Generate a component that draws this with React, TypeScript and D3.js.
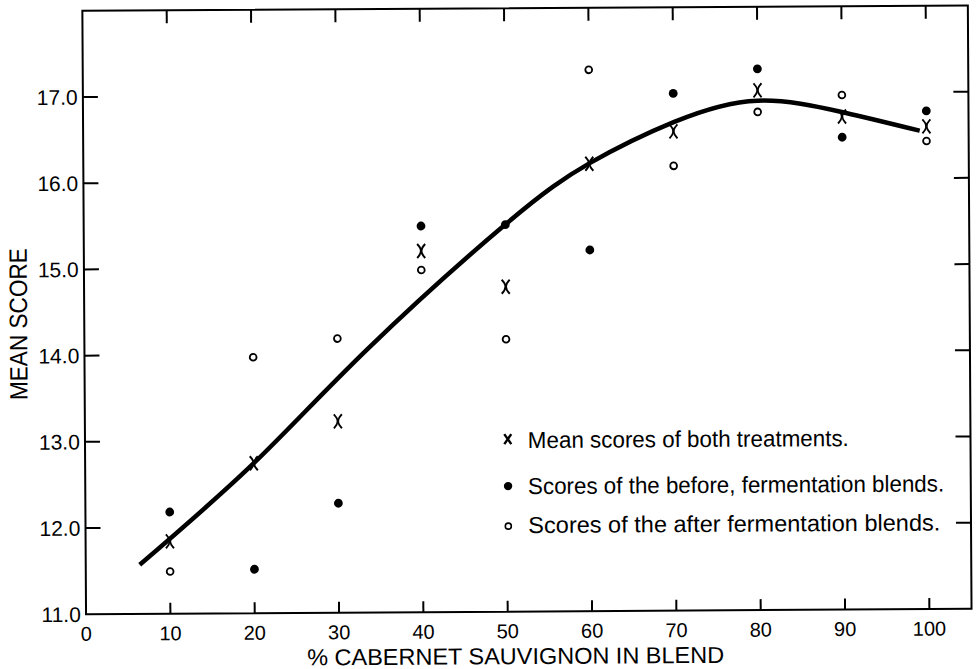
import React from 'react';
import * as d3 from 'd3';

// ---- data ----
const blendPct = [10, 20, 30, 40, 50, 60, 70, 80, 90, 100];
const meanScores = [11.84, 12.74, 13.22, 15.19, 14.77, 16.19, 16.56, 17.03, 16.72, 16.6];
const beforeScores = [12.18, 11.51, 12.27, 15.48, 15.49, 15.19, 17.0, 17.28, 16.48, 16.78];
const afterScores = [11.49, 13.97, 14.18, 14.97, 14.16, 17.28, 16.16, 16.78, 16.97, 16.43];

// fitted smooth curve (hand drawn in the original)
const curvePct = [6.4, 20, 33.5, 50.1, 60.1, 70.1, 80, 90.1, 99.2];
const curveScore = [11.57, 12.74, 14.05, 15.5, 16.2, 16.67, 16.91, 16.77, 16.55];

const xTickValues = [0, 10, 20, 30, 40, 50, 60, 70, 80, 90, 100];
const yTickValues = [11, 12, 13, 14, 15, 16, 17];
const yTickLabels = ['11.0', '12.0', '13.0', '14.0', '15.0', '16.0', '17.0'];
const legendLabels = [
  'Mean scores of both treatments.',
  'Scores of the before, fermentation blends.',
  'Scores of the after fermentation blends.',
];
const xTitle = '% CABERNET SAUVIGNON IN BLEND';
const yTitle = 'MEAN SCORE';

const W = 978;
const H = 669;
const FONT = '"Liberation Sans", Arial, sans-serif';

const xMarkPath = 'M-4,-7 C1,-2 1,2 -4,7 M4,-7 C-1,-2 -1,2 4,7';

export default function App() {
  const x = d3.scaleLinear().domain([0, 105]).range([84.2, 969.7]);
  const y = d3.scaleLinear().domain([11, 18]).range([611.55, 8.15]);

  const curveData = curvePct.map((p, i) => [p, curveScore[i]] as [number, number]);
  const line = d3
    .line<[number, number]>()
    .x((d) => x(d[0]))
    .y((d) => y(d[1]))
    .curve(d3.curveNatural);

  const x0 = x(0);
  const x1 = x(105);
  const y0 = y(11);
  const y1 = y(18);

  return (
    <svg
      width={W}
      height={H}
      viewBox={`0 0 ${W} ${H}`}
      style={{ position: 'absolute', left: 0, top: 0, background: '#fff' }}
      fontFamily={FONT}
    >
      <rect x={0} y={0} width={W} height={H} fill="#fff" />
      <g transform="rotate(-0.35 526 311)">
        {/* frame */}
        <path
          d={`M${x0},${y1} H${x1} V${y0} H${x0} Z`}
          fill="none"
          stroke="#000"
          strokeWidth={2}
        />
        {/* bottom ticks (inward) */}
        {xTickValues.filter((v) => v > 0).map((v) => (
          <line key={`bt${v}`} x1={x(v)} x2={x(v)} y1={y0} y2={y0 - 11} stroke="#000" strokeWidth={2} />
        ))}
        {/* top ticks */}
        {xTickValues.filter((v) => v > 0).map((v) => (
          <line key={`tt${v}`} x1={x(v)} x2={x(v)} y1={y1} y2={y1 + 13} stroke="#000" strokeWidth={2} />
        ))}
        {/* left ticks */}
        {yTickValues.filter((v) => v > 11).map((v) => (
          <line key={`lt${v}`} x1={x0} x2={x0 + 15} y1={y(v)} y2={y(v)} stroke="#000" strokeWidth={2} />
        ))}
        {/* right ticks */}
        {yTickValues.filter((v) => v > 11).map((v) => (
          <line key={`rt${v}`} x1={x1} x2={x1 - 15} y1={y(v)} y2={y(v)} stroke="#000" strokeWidth={2} />
        ))}
        {/* x tick labels */}
        {xTickValues.map((v) => (
          <text key={`xl${v}`} x={x(v)} y={638} textAnchor="middle" fontSize={20} fill="#000">
            {v}
          </text>
        ))}
        {/* y tick labels */}
        {yTickValues.map((v, i) => (
          <text
            key={`yl${v}`}
            x={79}
            y={y(v)}
            dy="0.36em"
            textAnchor="end"
            fontSize={21}
            fill="#000"
          >
            {yTickLabels[i]}
          </text>
        ))}
        {/* axis titles */}
        <text
          x={513.5}
          y={664}
          textAnchor="middle"
          fontSize={23}
          textLength={417}
          lengthAdjust="spacingAndGlyphs"
          fill="#000"
        >
          {xTitle}
        </text>
        <text
          transform="translate(27,321) rotate(-90)"
          textAnchor="middle"
          fontSize={25}
          textLength={152}
          lengthAdjust="spacingAndGlyphs"
          fill="#000"
        >
          {yTitle}
        </text>

        {/* fitted curve */}
        <path d={line(curveData) || ''} fill="none" stroke="#000" strokeWidth={4.5} strokeLinecap="butt" />

        {/* before-fermentation: filled dots */}
        {blendPct.map((p, i) => (
          <circle key={`b${p}`} cx={x(p)} cy={y(beforeScores[i])} r={4.4} fill="#000" />
        ))}
        {/* after-fermentation: open circles */}
        {blendPct.map((p, i) => (
          <circle
            key={`a${p}`}
            cx={x(p)}
            cy={y(afterScores[i])}
            r={3.4}
            fill="#fff"
            stroke="#000"
            strokeWidth={1.8}
          />
        ))}
        {/* means: x marks */}
        {blendPct.map((p, i) => (
          <path
            key={`m${p}`}
            d={xMarkPath}
            transform={`translate(${x(p)},${y(meanScores[i])})`}
            fill="none"
            stroke="#000"
            strokeWidth={2}
          />
        ))}

        {/* legend */}
        <g>
          <path
            d="M-3.5,-5 L3.5,5 M3.5,-5 L-3.5,5"
            transform="translate(507,439)"
            stroke="#000"
            strokeWidth={2.4}
            fill="none"
          />
          <text x={527} y={448} fontSize={23} textLength={321} lengthAdjust="spacingAndGlyphs" fill="#000">
            {legendLabels[0]}
          </text>
          <circle cx={507} cy={486} r={4.2} fill="#000" />
          <text x={527} y={494} fontSize={23} textLength={416} lengthAdjust="spacingAndGlyphs" fill="#000">
            {legendLabels[1]}
          </text>
          <circle cx={507} cy={526} r={3} fill="#fff" stroke="#000" strokeWidth={1.6} />
          <text x={527} y={533} fontSize={23} textLength={412} lengthAdjust="spacingAndGlyphs" fill="#000">
            {legendLabels[2]}
          </text>
        </g>
      </g>
    </svg>
  );
}
